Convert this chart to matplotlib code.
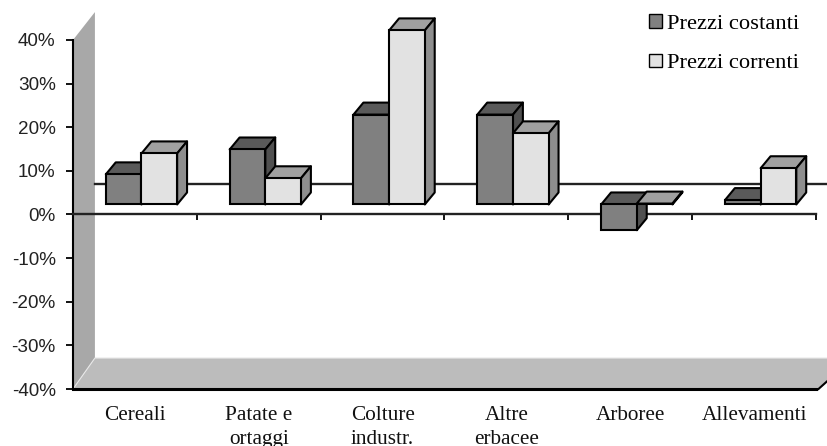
import matplotlib
matplotlib.use('Agg')
import matplotlib.pyplot as plt
from matplotlib.patches import Polygon, Patch

# Data (height of each bar from its own base, in %)
categories = ['Cereali', 'Patate e\nortaggi', 'Colture\nindustr.', 'Altre\nerbacee', 'Arboree', 'Allevamenti']
costanti = [6.9, 12.6, 20.6, 20.6, -5.9, 1.0]
correnti = [11.7, 6.0, 39.9, 16.3, 0.2, 8.3]
y_ticks = [-40, -30, -20, -10, 0, 10, 20, 30, 40]

# 3D look, in data units (x: one category = 124 px, y: 10% = 43.6 px)
wall_dx, wall_dy = 0.177, 7.1
bar_dx, bar_dy = 0.08, 2.75
bar_base = 2.3
bar_shift = 0.053
bar_w = 0.288
edge_w = 1.5

colors_cost = {'front': '#808080', 'top': '#5a5a5a', 'side': '#505050'}
colors_corr = {'front': '#e2e2e2', 'top': '#a0a0a0', 'side': '#8e8e8e'}


def draw_bar(ax, x, value, c, z):
    top = bar_base + value
    up = max(top, bar_base)
    ax.bar(x, value, bar_w, bottom=bar_base, align='edge', color=c['front'],
           edgecolor='black', linewidth=edge_w, zorder=z + 0.2, clip_on=False)
    ax.add_patch(Polygon([(x, up), (x + bar_dx, up + bar_dy), (x + bar_w + bar_dx, up + bar_dy), (x + bar_w, up)],
                         facecolor=c['top'], edgecolor='black', linewidth=edge_w, joinstyle='round', zorder=z, clip_on=False))
    low = min(top, bar_base)
    ax.add_patch(Polygon([(x + bar_w, low), (x + bar_w + bar_dx, low + bar_dy), (x + bar_w + bar_dx, up + bar_dy), (x + bar_w, up)],
                         facecolor=c['side'], edgecolor='black', linewidth=edge_w, joinstyle='round', zorder=z + 0.1, clip_on=False))


fig = plt.figure(figsize=(8.28, 4.46), dpi=100)
ax = fig.add_axes([73 / 828, 1 - 389 / 446, (816 - 73) / 828, (389 - 40) / 446])
ax.set_xlim(0, 6)
ax.set_ylim(-40, 40)

# wall and floor
ax.add_patch(Polygon([(0, -40), (0, 40), (wall_dx, 46.4), (wall_dx, -40 + wall_dy)],
                     facecolor='#a8a8a8', edgecolor='none', clip_on=False, zorder=1))
ax.add_patch(Polygon([(0, -40), (wall_dx, -40 + wall_dy), (6.3, -40 + wall_dy), (6.02, -40)],
                     facecolor='#bcbcbc', edgecolor='#e8e8e8', linewidth=0.8, clip_on=False, zorder=1.1))
ax.plot([6.02, 6.3], [-40, -40 + wall_dy], color='black', linewidth=1.5, clip_on=False, zorder=1.2)

# zero lines, back and front
ax.plot([wall_dx, 6.3], [wall_dy, wall_dy], color='#222222', linewidth=1.7, clip_on=False, zorder=2)
ax.plot([0, 6], [-40, -40], color='black', linewidth=2.2, clip_on=False, zorder=2)

for i in range(len(categories)):
    x = i + 0.5 + bar_shift - bar_w
    draw_bar(ax, x, costanti[i], colors_cost, 3 + i)
    draw_bar(ax, x + bar_w, correnti[i], colors_corr, 3.5 + i)

# axes
for s in ['top', 'right']:
    ax.spines[s].set_visible(False)
ax.spines['left'].set_linewidth(1.5)
ax.spines['bottom'].set_position(('data', 0))
ax.spines['bottom'].set_linewidth(1.7)
ax.spines['bottom'].set_color('#222222')
ax.spines['bottom'].set_zorder(2.5)
ax.set_yticks(y_ticks)
ax.set_yticklabels([f'{v}%' for v in y_ticks], family='Liberation Sans', fontsize=13.6, color='#222222')
ax.tick_params(axis='y', length=5, width=1.3, pad=7.5)
ax.set_xticks(range(1, 7))
ax.set_xticklabels([])
ax.tick_params(axis='x', which='major', length=4, width=1.3)
ax.set_xticks([i + 0.5 for i in range(6)], categories, minor=True, family='Liberation Serif',
              fontsize=15.3, linespacing=1.33, color='#111111')
ax.tick_params(axis='x', which='minor', length=0, pad=138)

handles = [Patch(facecolor=colors_cost['front'], edgecolor='black', linewidth=1.0, label='Prezzi costanti'),
           Patch(facecolor=colors_corr['front'], edgecolor='black', linewidth=1.0, label='Prezzi correnti')]
ax.legend(handles=handles, loc='upper right', bbox_to_anchor=(0.978, 1.074), frameon=False,
          prop={'family': 'Liberation Serif', 'size': 16.2}, handlelength=0.55, handleheight=0.55,
          handletextpad=0.25, labelspacing=0.88, borderpad=0, borderaxespad=0)

fig.savefig('out.png', dpi=100)
